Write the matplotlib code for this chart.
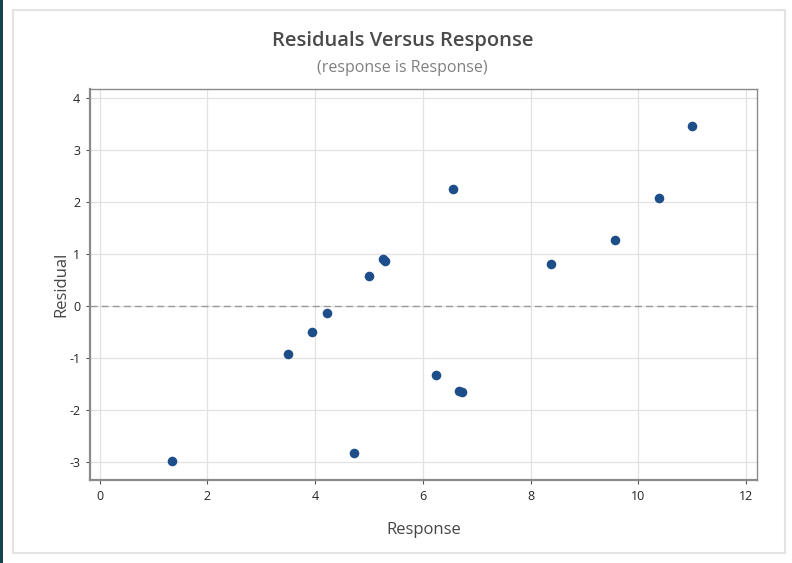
import matplotlib
matplotlib.use("Agg")
import matplotlib.pyplot as plt
from matplotlib.patches import Rectangle

# fitted response vs residual
response = [1.35, 3.49, 3.94, 4.22, 4.72, 5.00, 5.26, 5.30, 6.24, 6.56,
            6.66, 6.72, 8.37, 9.56, 10.39, 10.99]
residual = [-2.99, -0.93, -0.50, -0.14, -2.84, 0.58, 0.91, 0.87, -1.34, 2.24,
            -1.63, -1.66, 0.80, 1.26, 2.08, 3.45]
xticks = [0, 2, 4, 6, 8, 10, 12]
yticks = [-3, -2, -1, 0, 1, 2, 3, 4]

plt.rcParams['font.family'] = ['Open Sans', 'DejaVu Sans']
plt.rcParams['axes.unicode_minus'] = False

fig = plt.figure(figsize=(7.92, 5.63), dpi=100)
W, H = 792, 563

# outer frame and the dark strip on the left edge
fig.patches.append(Rectangle((13 / W, 10 / H), 772 / W, 543 / H, transform=fig.transFigure,
                             fill=False, edgecolor='#e3e3e3', linewidth=1.5))
fig.patches.append(Rectangle((0, 0), 3 / W, 1, transform=fig.transFigure,
                             facecolor='#15444f', edgecolor='none'))

ax = fig.add_axes([90 / W, 1 - 480 / H, 667 / W, 391 / H])
ax.scatter(response, residual, s=48, color='#1d4e89', zorder=3, linewidths=0)
ax.axhline(0, color='#9a9a9a', linestyle=(0, (5, 3)), linewidth=1, zorder=2)

ax.set_xlim(-0.18, 12.2)
ax.set_ylim(-3.35, 4.17)
ax.set_xticks(xticks)
ax.set_yticks(yticks)
ax.grid(True, color='#e2e2e2', linewidth=0.9, zorder=0)
ax.set_axisbelow(True)

for side in ['top', 'right']:
    ax.spines[side].set_color('#8a8a8a')
    ax.spines[side].set_linewidth(1.0)
for side in ['left', 'bottom']:
    ax.spines[side].set_color('#8a8a8a')
    ax.spines[side].set_linewidth(1.6)

ax.tick_params(axis='both', labelsize=9, colors='#555555', labelcolor='#262626',
               length=3, width=0.8, pad=4)

ax.set_xlabel('Response', fontsize=12, color='#454545', labelpad=14)
ax.set_ylabel('Residual', fontsize=12, color='#454545', labelpad=0)

fig.text(0.508, 1 - 41 / H, 'Residuals Versus Response', ha='center', va='center',
         fontsize=14.5, fontweight='semibold', color='#4a4a4a')
fig.text(0.508, 1 - 68 / H, '(response is Response)', ha='center', va='center',
         fontsize=11.5, color='#808080')

fig.savefig('out.png', dpi=100)
